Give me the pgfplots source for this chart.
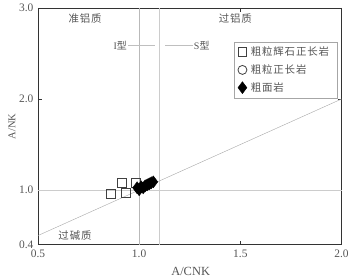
\documentclass[border=0pt]{standalone}
\usepackage{fontspec}
\setmainfont{Liberation Serif}
\newfontfamily\cjk{Noto Sans CJK SC}
\newfontfamily\cjkls[LetterSpace=8]{Noto Sans CJK SC}
\usepackage{pgfplots}
\pgfplotsset{compat=1.18}
\definecolor{txt}{HTML}{555555}
\definecolor{frame}{HTML}{333333}
\begin{document}
\begin{tikzpicture}
\begin{axis}[
  scale only axis, width=304bp, height=237bp,
  xmin=0.5, xmax=2.0, ymin=0.4, ymax=3.0,
  xtick={0.5,1.0,1.5,2.0}, ytick={0.4,1.0,2.0,3.0},
  xticklabels={0.5,1.0,1.5,2.0}, yticklabels={0.4,1.0,2.0,3.0},
  tick align=inside, major tick length=4bp,
  tick style={frame, line width=0.6pt},
  axis line style={frame, line width=0.9pt},
  ticklabel style={font=\fontsize{11.5}{13}\selectfont, text=txt},
  xticklabel style={yshift=-2bp},
  yticklabel style={xshift=-1bp},
  /pgf/number format/assume math mode=true,
  xlabel={A/CNK}, ylabel={A/NK},
  xlabel style={font=\fontsize{12.5}{14}\selectfont, text=txt, at={(axis description cs:0.503,-0.114)}, anchor=center},
  ylabel style={font=\fontsize{10.5}{12}\selectfont, text=txt, at={(axis description cs:-0.0855,0.5)}, anchor=center},
  legend style={at={(rel axis cs:0.645,0.857)}, anchor=north west,
    draw=gray!70, font=\cjkls\fontsize{10.5}{12}\selectfont, text=txt,
    row sep=3.5pt, inner xsep=4pt, inner ysep=3pt,
    nodes={inner xsep=4pt}},
  legend cell align=left,
  clip=false,
]
\addplot[gray!55, line width=0.6pt, forget plot] coordinates {(1.0,0.4) (1.0,3.0)};
\addplot[gray!40, line width=0.6pt, forget plot] coordinates {(1.1,0.4) (1.1,3.0)};
\addplot[gray!40, line width=0.8pt, forget plot] coordinates {(0.5,1.0) (2.0,1.0)};
\addplot[gray!70, line width=0.4pt, forget plot] coordinates {(0.5,0.5) (2.0,2.0)};
\addplot[gray!50, line width=0.4pt, forget plot] coordinates {(0.945,2.59) (1.08,2.59)};
\addplot[gray!50, line width=0.4pt, forget plot] coordinates {(1.13,2.59) (1.265,2.59)};
\addplot[only marks, mark=square, mark size=4.3bp, draw=black!75, line width=0.8pt] coordinates {
 (0.861,0.96) (0.916,1.08) (0.936,0.97) (0.985,1.08)};
\addlegendentry{粗粒辉石正长岩}
\addplot[only marks, mark=o, mark size=4.5bp, draw=black!75, line width=0.8pt] coordinates {
 (1.0,1.02) (1.02,1.03) (1.04,1.05)};
\addlegendentry{粗粒正长岩}
\addplot[only marks, mark=diamond*, mark size=6bp, fill=black, draw=black] coordinates {
 (0.99,1.025) (1.0,1.003) (1.01,1.036) (1.02,1.025) (1.03,1.047) (1.04,1.058) (1.05,1.069) (1.06,1.08) (1.07,1.09)};
\addlegendentry{粗面岩}
\node[text=txt, font=\cjkls\fontsize{10.5}{12}\selectfont] at (axis cs:0.733,2.88) {准铝质};
\node[text=txt, font=\cjkls\fontsize{10.5}{12}\selectfont] at (axis cs:1.475,2.88) {过铝质};
\node[text=txt, font=\cjkls\fontsize{10.5}{12}\selectfont] at (axis cs:0.683,0.5) {过碱质};
\node[text=txt, font=\fontsize{10}{11}\selectfont, anchor=east, inner sep=1pt] at (axis cs:0.945,2.59) {I\cjk 型};
\node[text=txt, font=\fontsize{10}{11}\selectfont, anchor=west, inner sep=1pt] at (axis cs:1.265,2.59) {S\cjk 型};
\end{axis}
\path[use as bounding box] (-38bp,-31bp) rectangle (314bp,245bp);
\end{tikzpicture}
\end{document}
